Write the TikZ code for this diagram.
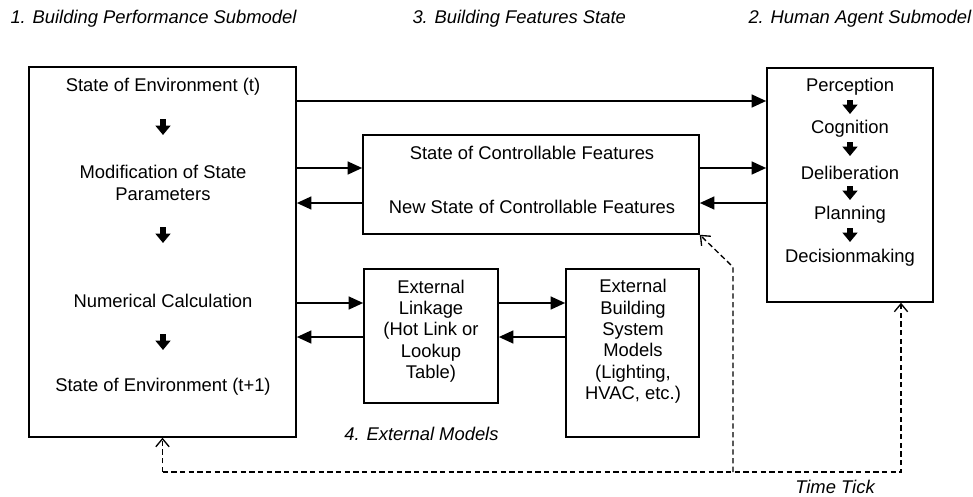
\documentclass[tikz,border=0pt]{standalone}
\usepackage{fontspec}
\setmainfont{Liberation Sans}
\usetikzlibrary{arrows.meta,calc}

\tikzset{every picture/.style={line width=0.75pt}}
\tikzset{
  box/.style={draw, line width=1.1pt, inner sep=0pt},
  lbl/.style={inner sep=0pt, align=center, font=\fontsize{13.8}{16}\selectfont},
  head/.style={inner sep=0pt, anchor=west, font=\fontsize{13.8}{16}\selectfont\itshape},
  flow/.style={line width=1.9pt, -{Triangle[length=11pt,width=9.5pt]}},
  downarr/.style={line width=4.2pt, -{Triangle[length=7pt,width=11pt]}},
  tick/.style={line width=1pt, dash pattern=on 4pt off 2.5pt, -{Straight Barb[length=6pt,width=10pt]}}
}

\begin{document}
\begin{tikzpicture}[x=0.75pt,y=0.75pt,yscale=-1,xscale=1]
\useasboundingbox (0,0) rectangle (973,496);

% Headings
\node[head] (h1) at (10,19) {1. Building Performance Submodel};
\node[head] (h3) at (412,19) {3. Building Features State};
\node[head] (h2) at (748,19) {2. Human Agent Submodel};

% Boxes
\node[box, minimum width=200.25pt, minimum height=277.5pt] (envbox) at (162.5,252) {};
\node[box, minimum width=252pt, minimum height=74.25pt] (featbox) at (531,184.5) {};
\node[box, minimum width=100.5pt, minimum height=100.5pt] (linkbox) at (431,336) {};
\node[box, minimum width=99.75pt, minimum height=126pt] (extbox) at (632.5,353) {};
\node[box, minimum width=124.5pt, minimum height=175.5pt] (agentbox) at (850,185) {};

% Building performance submodel
\node[lbl] (envt) at (163,87) {State of Environment (t)};
\node[lbl] (modif) at (163,183) {Modification of State\\Parameters};
\node[lbl] (numcalc) at (163,301) {Numerical Calculation};
\node[lbl] (envt1) at (163,387) {State of Environment (t+1)};
\foreach \y in {127,235,342}
  \draw[downarr] (163,\y-8) -- (163,\y+8);

% Building features
\node[lbl] (ctrl) at (532,153) {State of Controllable Features};
\node[lbl] (newctrl) at (532,207) {New State of Controllable Features};

% External models
\node[lbl] (linktxt) at (431,331) {External\\Linkage\\(Hot Link or\\Lookup\\Table)};
\node[lbl] (exttxt) at (633,341.5) {External\\Building\\System\\Models\\(Lighting,\\HVAC, etc.)};
\node[lbl, font=\fontsize{13.8}{16}\selectfont\itshape] (extlbl) at (421.5,434) {4. External Models};

% Human agent submodel
\node[lbl] (perc) at (850,87) {Perception};
\node[lbl] (cogn) at (850,129) {Cognition};
\node[lbl] (delib) at (850,173) {Deliberation};
\node[lbl] (plan) at (850,215) {Planning};
\node[lbl] (decis) at (850,258) {Decisionmaking};
\foreach \y in {107,149,193,235}
  \draw[downarr] (850,\y-7) -- (850,\y+7);

% Data flow
\draw[flow] (envbox.east |- 0,101) -- (agentbox.west |- 0,101);
\draw[flow] (envbox.east |- 0,168) -- (featbox.west |- 0,168);
\draw[flow] (featbox.west |- 0,203) -- (envbox.east |- 0,203);
\draw[flow] (featbox.east |- 0,168) -- (agentbox.west |- 0,168);
\draw[flow] (agentbox.west |- 0,203) -- (featbox.east |- 0,203);
\draw[flow] (envbox.east |- 0,303) -- (linkbox.west |- 0,303);
\draw[flow] (linkbox.west |- 0,337) -- (envbox.east |- 0,337);
\draw[flow] (linkbox.east |- 0,303) -- (extbox.west |- 0,303);
\draw[flow] (extbox.west |- 0,337) -- (linkbox.east |- 0,337);

% Time tick
\coordinate (tickL) at (162.5,472);
\coordinate (tickM) at (733,472);
\coordinate (tickR) at (901,472);
\coordinate (bend) at (733,267);
\draw[tick] (tickL) -- (envbox.south);
\draw[tick] (tickL) -- (tickR) -- (tickR |- agentbox.south);
\draw[tick] (tickM) -- (bend) -- (featbox.south east);
\node[lbl, font=\fontsize{13.8}{16}\selectfont\itshape] (ticklbl) at (835,486.5) {Time Tick};

\end{tikzpicture}
\end{document}
